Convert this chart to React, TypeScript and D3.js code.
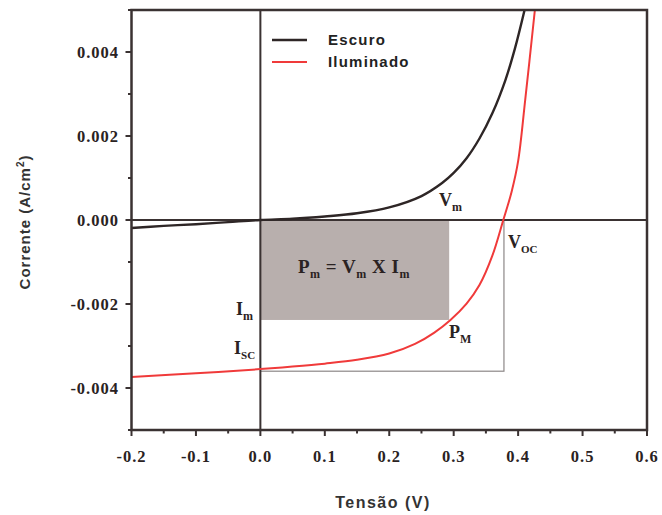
import React from "react";
import * as d3 from "d3";

const darkV = [-0.2, -0.15, -0.1, -0.05, 0, 0.05, 0.1, 0.15, 0.2, 0.25, 0.282, 0.3, 0.32, 0.34, 0.36, 0.38, 0.395, 0.41];
const darkI = [-0.00019, -0.00014, -0.0001, -0.00005, 0, 0.00003, 0.000085, 0.00016, 0.0003, 0.00057, 0.00088, 0.00112, 0.00147, 0.00194, 0.00254, 0.00332, 0.00408, 0.005];
const lightV = [-0.2, -0.1, 0, 0.05, 0.1, 0.15, 0.2, 0.24, 0.27, 0.295, 0.32, 0.34, 0.36, 0.377, 0.39, 0.4, 0.411, 0.426];
const lightI = [-0.00374, -0.00365, -0.00355, -0.00349, -0.00342, -0.00333, -0.00318, -0.00295, -0.00268, -0.00238, -0.00199, -0.00155, -0.00085, 0, 0.00068, 0.0014, 0.00286, 0.005];

const xTicks = [-0.2, -0.1, 0, 0.1, 0.2, 0.3, 0.4, 0.5, 0.6];
const xTickLabels = ["-0.2", "-0.1", "0.0", "0.1", "0.2", "0.3", "0.4", "0.5", "0.6"];
const yTicks = [-0.004, -0.002, 0, 0.002, 0.004];
const yTickLabels = ["-0.004", "-0.002", "0.000", "0.002", "0.004"];
const seriesNames = ["Escuro", "Iluminado"];

const Vm = 0.293;
const Im = -0.00238;
const Voc = 0.378;
const Isc = -0.0036;

const W = 662;
const H = 515;
const L = 131.5, R = 647, T = 10, B = 430;

export default function App() {
  const x = d3.scaleLinear().domain([-0.2, 0.6]).range([L, R]);
  const y = d3.scaleLinear().domain([-0.005, 0.005]).range([B, T]);
  const line = d3
    .line<[number, number]>()
    .x((d) => x(d[0]))
    .y((d) => y(d[1]))
    .curve(d3.curveCatmullRom.alpha(0.5));
  const dark = darkV.map((v, i) => [v, darkI[i]] as [number, number]);
  const light = lightV.map((v, i) => [v, lightI[i]] as [number, number]);

  const xMinor = d3.range(-0.15, 0.6, 0.1);
  const yMinor = [-0.005, -0.003, -0.001, 0.001, 0.003, 0.005];

  const frame = "#3a3232";
  const serif = "'Liberation Serif', 'Times New Roman', serif";
  const sans = "'Liberation Sans', Arial, sans-serif";
  const labelStyle = { fontFamily: serif, fontWeight: 700, fill: "#2a2222" } as const;

  return (
    <svg width={W} height={H} style={{ position: "absolute", left: 0, top: 0, background: "#fff" }}>
      <defs>
        <clipPath id="plotclip">
          <rect x={L} y={T} width={R - L} height={B - T} />
        </clipPath>
      </defs>
      {/* power rectangle */}
      <rect x={x(0)} y={y(0)} width={x(Vm) - x(0)} height={y(Im) - y(0)} fill="#b8afad" />
      <rect x={x(0)} y={y(0)} width={x(Voc) - x(0)} height={y(Isc) - y(0)} fill="none" stroke="#8c8888" strokeWidth={1.2} />
      {/* zero lines */}
      <line x1={L} x2={R} y1={y(0)} y2={y(0)} stroke={frame} strokeWidth={2} />
      <line x1={x(0)} x2={x(0)} y1={T} y2={B} stroke={frame} strokeWidth={2} />
      {/* curves */}
      <g clipPath="url(#plotclip)">
        <path d={line(dark) || ""} fill="none" stroke="#2e2626" strokeWidth={2.4} />
        <path d={line(light) || ""} fill="none" stroke="#f03a3a" strokeWidth={2} />
      </g>
      {/* frame */}
      <rect x={L} y={T} width={R - L} height={B - T} fill="none" stroke={frame} strokeWidth={2.5} />
      {/* x ticks */}
      {xTicks.map((t) => (
        <line key={"xt" + t} x1={x(t)} x2={x(t)} y1={B} y2={B + 6} stroke={frame} strokeWidth={2} />
      ))}
      {xMinor.map((t) => (
        <line key={"xm" + t} x1={x(t)} x2={x(t)} y1={B} y2={B + 3.5} stroke={frame} strokeWidth={2} />
      ))}
      {xTicks.map((t, i) => (
        <text key={"xl" + t} x={x(t)} y={462} textAnchor="middle" fontSize={16.5} letterSpacing={1} style={labelStyle}>
          {xTickLabels[i]}
        </text>
      ))}
      {/* y ticks */}
      {yTicks.map((t) => (
        <line key={"yt" + t} x1={L - 6} x2={L} y1={y(t)} y2={y(t)} stroke={frame} strokeWidth={2} />
      ))}
      {yMinor.map((t) => (
        <line key={"ym" + t} x1={L - 3.5} x2={L} y1={y(t)} y2={y(t)} stroke={frame} strokeWidth={2} />
      ))}
      {yTicks.map((t, i) => (
        <text key={"yl" + t} x={119} y={y(t) + 5.5} textAnchor="end" fontSize={16.5} letterSpacing={1} style={labelStyle}>
          {yTickLabels[i]}
        </text>
      ))}
      {/* axis titles */}
      <text x={383} y={508} textAnchor="middle" fontSize={16} letterSpacing={1.5} fontFamily={sans} fontWeight={700} fill="#333">
        Tensão (V)
      </text>
      <text
        transform={`translate(30,${222}) rotate(-90)`}
        textAnchor="middle"
        fontSize={15}
        letterSpacing={1}
        fontFamily={sans}
        fontWeight={700}
        fill="#333"
      >
        Corrente (A/cm<tspan dy={-6} fontSize={10}>2</tspan><tspan dy={6}>)</tspan>
      </text>
      {/* legend */}
      <line x1={272} x2={307} y1={40} y2={40} stroke="#2e2626" strokeWidth={2.4} />
      <line x1={272} x2={307} y1={62} y2={62} stroke="#f03a3a" strokeWidth={2} />
      <text x={328} y={45} fontSize={15} letterSpacing={1.2} fontFamily={sans} fontWeight={700} fill="#222">
        {seriesNames[0]}
      </text>
      <text x={328} y={67} fontSize={15} letterSpacing={1.2} fontFamily={sans} fontWeight={700} fill="#222">
        {seriesNames[1]}
      </text>
      {/* annotations */}
      <text x={298} y={273} fontSize={19} letterSpacing={0.5} style={labelStyle}>
        P<tspan dy={5} fontSize={12}>m</tspan>
        <tspan dy={-5}> = V</tspan>
        <tspan dy={5} fontSize={12}>m</tspan>
        <tspan dy={-5}> X I</tspan>
        <tspan dy={5} fontSize={12}>m</tspan>
      </text>
      <text x={439} y={206} fontSize={18} style={labelStyle}>
        V<tspan dy={5} fontSize={12}>m</tspan>
      </text>
      <text x={508} y={248} fontSize={18} style={labelStyle}>
        V<tspan dy={5} fontSize={11}>OC</tspan>
      </text>
      <text x={236} y={315} fontSize={18} style={labelStyle}>
        I<tspan dy={5} fontSize={12}>m</tspan>
      </text>
      <text x={234} y={354} fontSize={18} style={labelStyle}>
        I<tspan dy={5} fontSize={11}>SC</tspan>
      </text>
      <text x={449} y={338} fontSize={18} style={labelStyle}>
        P<tspan dy={5} fontSize={12}>M</tspan>
      </text>
    </svg>
  );
}
